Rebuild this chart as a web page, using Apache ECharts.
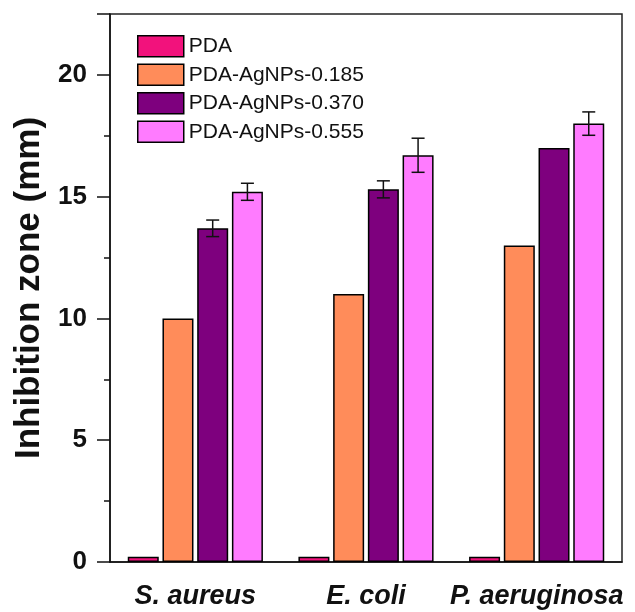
<!DOCTYPE html>
<html>
<head>
<meta charset="utf-8">
<script src="https://cdn.jsdelivr.net/npm/echarts@6/dist/echarts.min.js"></script>
<style>html,body{margin:0;padding:0;background:#fff;}#c{width:635px;height:612px;}</style>
</head>
<body>
<div id="c"></div>
<script>
const categories = ['S. aureus', 'E. coli', 'P. aeruginosa'];
const seriesNames = ['PDA', 'PDA-AgNPs-0.185', 'PDA-AgNPs-0.370', 'PDA-AgNPs-0.555'];
const valuesPDA = [0.22, 0.22, 0.22];
const values185 = [10, 11, 13];
const values370 = [13.7, 15.3, 17];
const values555 = [15.2, 16.7, 18];
const errPDA = [0, 0, 0];
const err185 = [0, 0, 0];
const err370 = [0.34, 0.35, 0];
const err555 = [0.35, 0.7, 0.48];
const yTicks = [0, 5, 10, 15, 20];

const colors = ['#F2127C', '#FF8C5A', '#7E007E', '#FF7BFF'];
const allValues = [valuesPDA, values185, values370, values555];
const allErr = [errPDA, err185, err370, err555];
const FONT = 'Liberation Sans, Arial, sans-serif';
const BAR_W = 31, BAR_GAP = 0.12;

const barSeries = seriesNames.map((n, i) => ({
  name: n, type: 'bar', barWidth: BAR_W, barGap: (BAR_GAP * 100) + '%',
  data: allValues[i],
  itemStyle: { color: colors[i], borderColor: '#000', borderWidth: 1.5 },
  emphasis: { disabled: true },
  z: 2
}));

const errData = [];
allValues.forEach((vals, si) => {
  vals.forEach((v, ci) => {
    if (allErr[si][ci] > 0) errData.push([ci, v - allErr[si][ci], v + allErr[si][ci], si]);
  });
});

const errSeries = {
  type: 'custom', name: 'err', data: errData, z: 5,
  encode: { x: 0, y: [1, 2] },
  renderItem: function (params, api) {
    const ci = api.value(0), lo = api.value(1), hi = api.value(2), si = api.value(3);
    const pitch = BAR_W * (1 + BAR_GAP);
    const off = (si - 1.5) * pitch;
    const pLo = api.coord([ci, lo]);
    const pHi = api.coord([ci, hi]);
    const x = pLo[0] + off;
    const hw = 6.5;
    const st = { stroke: '#111', lineWidth: 1.5, fill: null };
    return { type: 'group', children: [
      { type: 'line', shape: { x1: x, y1: pLo[1], x2: x, y2: pHi[1] }, style: st },
      { type: 'line', shape: { x1: x - hw, y1: pLo[1], x2: x + hw, y2: pLo[1] }, style: st },
      { type: 'line', shape: { x1: x - hw, y1: pHi[1], x2: x + hw, y2: pHi[1] }, style: st }
    ]};
  }
};

const chart = echarts.init(document.getElementById('c'), null, { renderer: 'canvas' });
chart.setOption({
  animation: false,
  backgroundColor: '#fff',
  textStyle: { fontFamily: FONT },
  grid: { left: 110, right: 13, top: 14, bottom: 50, show: true, borderColor: '#222', borderWidth: 1.5, backgroundColor: 'transparent' },
  legend: {
    data: seriesNames, orient: 'vertical', left: 137, top: 35, padding: 0,
    itemWidth: 46, itemHeight: 21, itemGap: 6,
    icon: 'rect',
    itemStyle: { borderColor: '#000', borderWidth: 1.5 },
    textStyle: { fontFamily: FONT, fontSize: 21, color: '#111' },
    selectedMode: false
  },
  xAxis: {
    type: 'category', data: categories,
    axisLine: { lineStyle: { color: '#111', width: 1.5 } },
    axisTick: { show: false },
    axisLabel: { fontFamily: FONT, fontSize: 27, fontWeight: 'bold', fontStyle: 'italic', color: '#111', margin: 21, interval: 0 }
  },
  yAxis: {
    type: 'value', min: 0, max: 22.5, interval: 5,
    name: 'Inhibition zone (mm)', nameLocation: 'middle', nameGap: 55,
    nameTextStyle: { fontFamily: FONT, fontSize: 35, fontWeight: 'bold', color: '#111' },
    axisLine: { show: true, lineStyle: { color: '#111', width: 1.5 } },
    axisTick: { show: true, inside: false, length: 13, lineStyle: { color: '#111', width: 1.5 } },
    minorTick: { show: true, splitNumber: 2, length: 6, lineStyle: { color: '#111', width: 1.5 } },
    splitLine: { show: false },
    axisLabel: { fontFamily: FONT, fontSize: 26, fontWeight: 'bold', color: '#111', margin: 23,
      formatter: function (v) { return yTicks.indexOf(v) >= 0 ? String(v) : ''; } }
  },
  series: barSeries.concat([errSeries])
});
</script>
</body>
</html>
